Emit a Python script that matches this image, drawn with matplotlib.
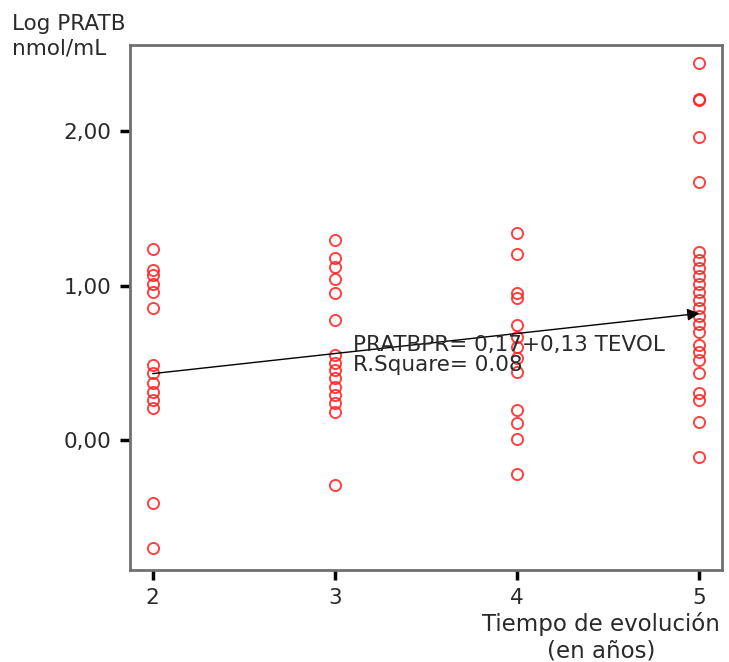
import matplotlib.pyplot as plt

# tiempo de evolucion (años) and Log PRATB values
x2 = [1.236, 1.10, 1.068, 1.01, 0.958, 0.854, 0.485, 0.434, 0.369, 0.311, 0.259, 0.207, -0.408, -0.699]
x3 = [1.294, 1.178, 1.12, 1.042, 0.951, 0.777, 0.55, 0.498, 0.453, 0.401, 0.343, 0.291, 0.239, 0.181, -0.291]
x4 = [1.34, 1.204, 0.951, 0.919, 0.744, 0.667, 0.602, 0.531, 0.44, 0.194, 0.11, 0.006, -0.22]
x5 = [2.44, 2.21, 2.20, 1.961, 1.67, 1.217, 1.165, 1.113, 1.061, 1.01, 0.958, 0.906,
      0.854, 0.803, 0.751, 0.699, 0.615, 0.57, 0.518, 0.434, 0.304, 0.259, 0.117, -0.11]
groups = {2: x2, 3: x3, 4: x4, 5: x5}

intercept = 0.17
slope = 0.13
r_square = "0.08"

fig = plt.figure(figsize=(7.29, 6.62), dpi=100)
ax = fig.add_axes([0.178, 0.139, 0.813, 0.793])

for t, vals in groups.items():
    ax.plot([t] * len(vals), vals, linestyle='none', marker='o', markersize=8,
            markerfacecolor='none', markeredgecolor='#ff2020', markeredgewidth=1.4, alpha=0.85)

y_start = intercept + slope * 2
y_end = intercept + slope * 5
ax.annotate('', xy=(5, y_end), xytext=(2, y_start),
            arrowprops=dict(arrowstyle='-|>', color='black', lw=1.0, mutation_scale=18,
                            shrinkA=0, shrinkB=0))

ax.text(3.10, 0.615, 'PRATBPR= 0,17+0,13 TEVOL', fontsize=15.5, va='center', ha='left',
        color='#2a2a2a')
ax.text(3.10, 0.485, 'R.Square= ' + r_square, fontsize=15.5, va='center', ha='left',
        color='#2a2a2a')

ax.set_xlim(1.874, 5.126)
ax.set_ylim(-0.841, 2.557)
ax.set_xticks([2, 3, 4, 5])
ax.set_xticklabels(['2', '3', '4', '5'])
ax.set_yticks([0, 1, 2])
ax.set_yticklabels(['0,00', '1,00', '2,00'])
ax.tick_params(direction='out', length=7, width=2.5, labelsize=15.5, color='black',
               labelcolor='#2a2a2a', pad=6)

for s in ax.spines.values():
    s.set_color('#707070')
    s.set_linewidth(2)

fig.text(0.016, 0.979, 'Log PRATB\nnmol/mL', fontsize=15.5, va='top', ha='left',
         linespacing=1.3, color='#2a2a2a')
fig.text(0.824, 0.075, 'Tiempo de evolución\n(en años)', fontsize=16.5, va='top', ha='center',
         linespacing=1.15, color='#2a2a2a')

fig.savefig('out.png', dpi=100)
